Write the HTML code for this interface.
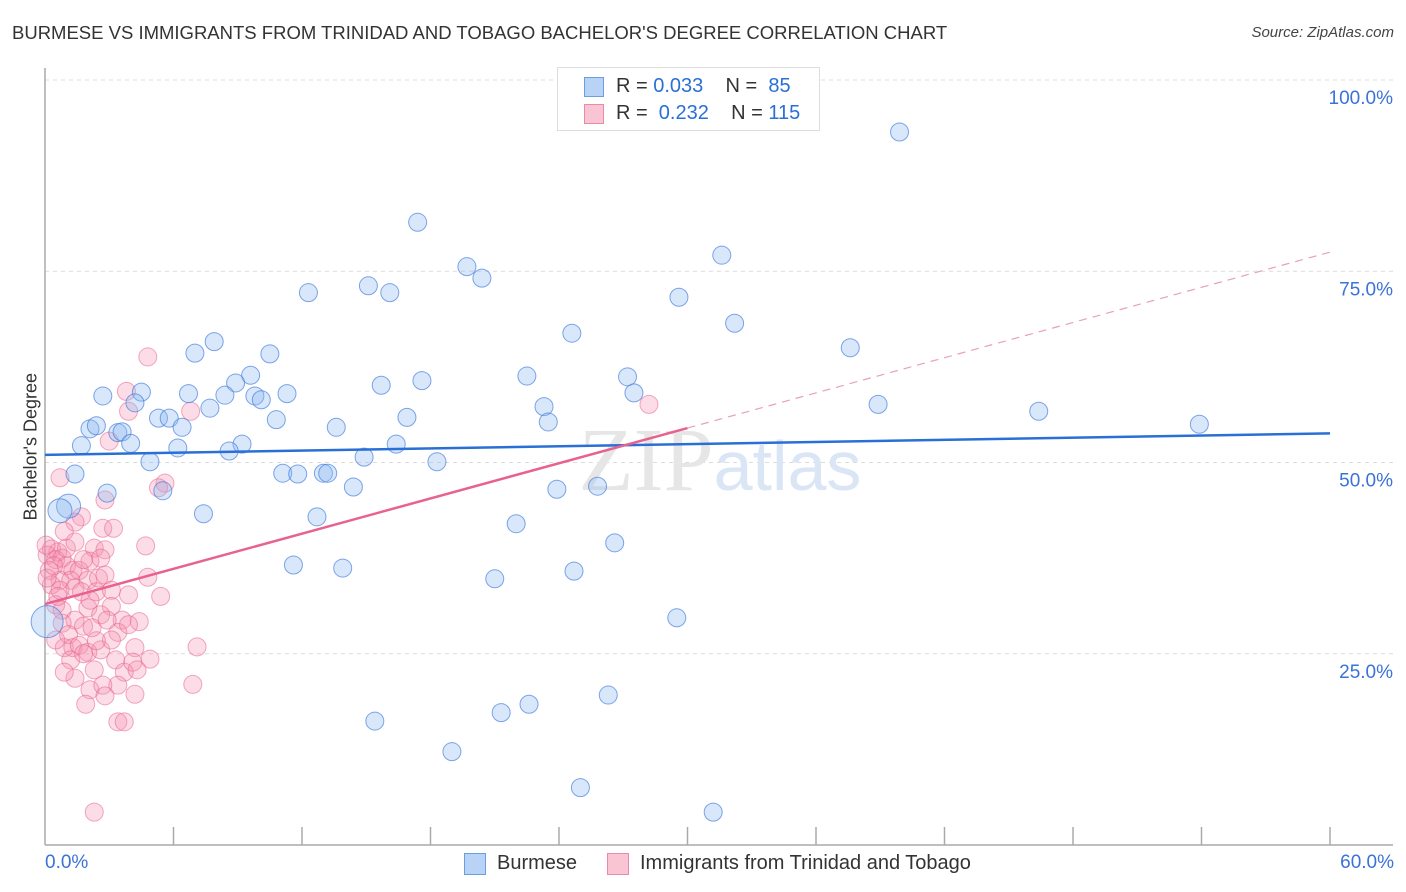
<!DOCTYPE html>
<html><head><meta charset="utf-8">
<style>
body{margin:0;background:#fff;font-family:"Liberation Sans",sans-serif;}
#wrap{position:relative;width:1406px;height:892px;overflow:hidden;}
.t{position:absolute;white-space:nowrap;}
</style></head>
<body>
<div id="wrap">
<div class="t" style="left:12px;top:22px;font-size:18.5px;color:#333;">BURMESE VS IMMIGRANTS FROM TRINIDAD AND TOBAGO BACHELOR'S DEGREE CORRELATION CHART</div>
<div class="t" style="right:12px;top:24px;font-size:15px;color:#444;font-style:italic;">Source: ZipAtlas.com</div>
<svg id="svg" width="1406" height="892" style="position:absolute;left:0;top:0;"></svg>
</div>
<script>
const blueX=[39.9,17.4,19.7,20.4,31.6,12.3,15.1,16.1,29.6,32.2,24.6,37.6,7.9,7.0,10.5,9.6,8.9,2.7,4.5,6.7,8.4,9.8,11.3,10.1,15.7,17.6,22.5,27.2,27.5,38.9,46.4,53.9,4.2,5.3,5.8,6.4,7.7,10.8,13.6,16.9,23.3,23.5,2.1,2.4,3.4,3.6,4.0,1.7,6.2,9.2,8.6,16.4,4.9,14.9,18.3,1.4,11.1,11.8,13.0,13.2,14.4,23.9,25.8,2.9,5.5,1.1,0.7,7.4,12.7,22.0,26.6,11.6,13.9,21.0,24.7,29.5,0.1,15.4,21.3,22.6,26.3,19.0,25.0,31.2];
const blueY=[93.2,81.4,75.6,74.1,77.1,72.2,73.1,72.2,71.6,68.2,66.9,65.0,65.8,64.3,64.2,61.4,60.4,58.7,59.2,59.0,58.8,58.7,59.0,58.2,60.1,60.7,61.3,61.2,59.1,57.6,56.7,55.0,57.8,55.8,55.8,54.6,57.1,55.6,54.6,55.9,57.3,55.3,54.4,54.8,53.9,54.0,52.5,52.2,51.9,52.4,51.5,52.4,50.1,50.7,50.1,48.5,48.6,48.5,48.6,48.6,46.8,46.5,46.9,46.0,46.3,44.3,43.7,43.3,42.9,42.0,39.5,36.6,36.2,34.8,35.8,29.7,29.2,16.2,17.3,18.4,19.6,12.2,7.5,4.3];
const blueBig=[0,0,0,0,0,0,0,0,0,0,0,0,0,0,0,0,0,0,0,0,0,0,0,0,0,0,0,0,0,0,0,0,0,0,0,0,0,0,0,0,0,0,0,0,0,0,0,0,0,0,0,0,0,0,0,0,0,0,0,0,0,0,0,0,0,1,1,0,0,0,0,0,0,0,0,0,2,0,0,0,0,0,0,0];
const pinkX=[4.8,3.8,3.9,6.8,3.0,5.6,5.3,0.7,2.8,1.7,1.4,0.9,2.7,3.2,2.3,2.8,4.7,0.3,0.6,0.1,0.5,0.8,1.0,0.2,1.3,1.6,2.1,2.6,0.7,1.2,2.0,2.5,2.8,0.3,0.7,1.4,1.7,2.4,3.1,3.9,4.8,0.5,0.8,2.0,3.1,2.6,3.6,4.4,1.4,1.8,0.8,1.1,2.2,3.4,3.9,0.9,1.3,1.6,2.0,2.6,3.1,4.2,7.1,4.9,1.2,1.8,2.4,3.3,3.7,2.3,1.4,2.1,4.1,4.3,3.4,2.7,4.2,1.9,2.8,6.9,3.4,3.7,2.3,0.5,0.6,1.0,1.4,1.8,2.1,2.9,0.9,5.4,28.2,0.05,0.1,0.4];
const pinkY=[63.8,59.3,56.7,56.7,52.8,47.3,46.7,48.0,45.1,42.9,42.2,41.0,41.4,41.4,38.8,38.6,39.1,38.7,38.3,37.9,37.3,37.5,36.5,35.9,35.9,35.9,37.1,37.5,34.6,34.6,34.6,34.9,35.3,34.0,33.3,33.6,33.1,33.1,33.3,32.7,35.0,31.4,30.7,31.0,31.2,30.1,29.4,29.2,29.4,28.6,29.0,27.5,28.4,27.8,28.8,25.8,25.8,26.1,25.2,25.5,26.8,25.8,25.9,24.3,24.2,25.0,26.7,24.2,22.6,22.9,21.8,20.3,23.9,22.9,20.9,20.9,19.7,18.4,19.5,21.0,16.1,16.1,4.3,26.8,32.5,38.8,39.6,37.3,32.0,29.4,22.6,32.5,57.6,39.2,34.9,36.5];
const yTicks=[25,50,75,100];
const blueLine=[51.0,53.8];
const pinkLine=[31.5,77.5];
const pinkSolidEnd=30;

const NS='http://www.w3.org/2000/svg';
const svg=document.getElementById('svg');
const X0=45,X1=1330,Y0=845,Y100=80;
const sx=v=>X0+(v/60)*(X1-X0);
const sy=v=>Y0-(v/100)*(Y0-Y100);
function mk(tag,attrs,parent){const e=document.createElementNS(NS,tag);for(const k in attrs)e.setAttribute(k,attrs[k]);(parent||svg).appendChild(e);return e;}

yTicks.forEach(t=>{
  const g=mk('line',{x1:X0,x2:1393,y1:sy(t),y2:sy(t),stroke:'#dcdcdc','stroke-dasharray':'4,4','stroke-width':1});
  
  
  const l=mk('text',{x:1393,y:sy(t)+24,'text-anchor':'end','font-size':19,fill:'#3a72d8','font-family':'Liberation Sans'});
  l.textContent=t.toFixed(1)+'%';
  
  
});
const ax=mk('line',{x1:X0,x2:1393,y1:Y0,y2:Y0,stroke:'#aaa','stroke-width':1.5});


const ay=mk('line',{x1:X0,x2:X0,y1:68,y2:Y0,stroke:'#aaa','stroke-width':1.5});


for(let i=1;i<=10;i++){
  const tk=mk('line',{x1:sx(i*6),x2:sx(i*6),y1:Y0,y2:Y0-18,stroke:'#aaa','stroke-width':1.5});
  
  
}
const wm=mk('text',{x:720,y:490,'text-anchor':'middle','font-size':90,fill:'#e4e9f0','font-family':'Liberation Serif'});
wm.innerHTML='<tspan fill="#e6e6e6">ZIP</tspan><tspan font-family="Liberation Sans" font-size="70" fill="#dae5f5">atlas</tspan>';



pinkX.forEach((v,i)=>{
  const c=mk('circle',{cx:sx(v),cy:sy(pinkY[i]),r:9,fill:'rgba(244,143,177,0.3)',stroke:'rgba(232,100,140,0.55)','stroke-width':1});
  
  
});
blueX.forEach((v,i)=>{
  const r=blueBig[i]===2?16:(blueBig[i]===1?12:9);
  const c=mk('circle',{cx:sx(v),cy:sy(blueY[i]),r:r,fill:'rgba(144,185,240,0.35)',stroke:'rgba(60,120,220,0.65)','stroke-width':1});
  
  
});
const bl=mk('line',{x1:sx(0),y1:sy(blueLine[0]),x2:sx(60),y2:sy(blueLine[1]),stroke:'#2a6fd6','stroke-width':2.5});


const pm=(pinkLine[1]-pinkLine[0])/60;
const pl=mk('line',{x1:sx(0),y1:sy(pinkLine[0]),x2:sx(pinkSolidEnd),y2:sy(pinkLine[0]+pm*pinkSolidEnd),stroke:'#e8628f','stroke-width':2.5});


const pd=mk('line',{x1:sx(pinkSolidEnd),y1:sy(pinkLine[0]+pm*pinkSolidEnd),x2:sx(60),y2:sy(pinkLine[1]),stroke:'#e8a0b8','stroke-width':1.2,'stroke-dasharray':'8,6'});


</script>
<div class="t" style="left:-34px;top:445px;font-size:18px;color:#333;transform:rotate(-90deg);transform-origin:center;width:130px;text-align:center;">Bachelor's Degree</div>
<div class="t" style="left:45px;top:852px;font-size:19px;color:#3a72d8;">0.0%</div>
<div class="t" style="right:12px;top:852px;font-size:19px;color:#3a72d8;">60.0%</div>
<div style="position:absolute;left:557px;top:67px;width:261px;height:62px;border:1px solid #ddd;background:#fff;font-size:20px;">
  <div style="position:absolute;left:26px;top:9px;width:18px;height:18px;background:#b9d3f6;border:1px solid #6c9de3;"></div>
  <div class="t" style="left:58px;top:7px;color:#333;">R = <span style="color:#2a6fd6">0.033</span>&nbsp;&nbsp;&nbsp; N = &nbsp;<span style="color:#2a6fd6">85</span></div>
  <div style="position:absolute;left:26px;top:36px;width:18px;height:18px;background:#f9c4d4;border:1px solid #e88aa8;"></div>
  <div class="t" style="left:58px;top:34px;color:#333;">R = &nbsp;<span style="color:#2a6fd6">0.232</span>&nbsp;&nbsp;&nbsp; N = <span style="color:#2a6fd6">115</span></div>
</div>
<div style="position:absolute;left:464px;top:852px;font-size:20px;color:#333;">
  <div style="position:absolute;left:0;top:0;width:200px;">
    <div style="position:absolute;left:0;top:1px;width:20px;height:20px;background:#b9d3f6;border:1px solid #6c9de3;"></div>
    <div class="t" style="left:33px;top:0px;">Burmese</div>
  </div>
  <div style="position:absolute;left:143px;top:0;width:380px;">
    <div style="position:absolute;left:0;top:1px;width:20px;height:20px;background:#f9c4d4;border:1px solid #e88aa8;"></div>
    <div class="t" style="left:33px;top:0px;">Immigrants from Trinidad and Tobago</div>
  </div>
</div>
</body></html>
